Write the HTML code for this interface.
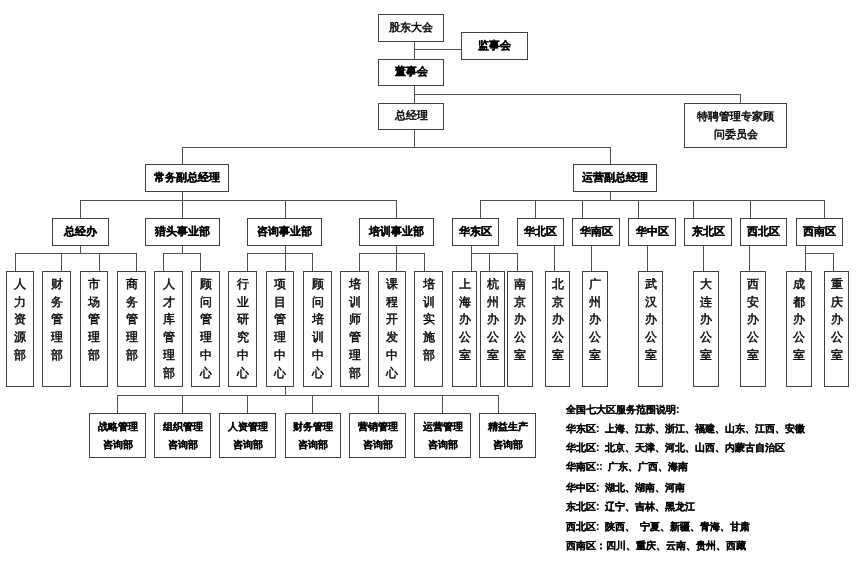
<!DOCTYPE html>
<html><head><meta charset="utf-8"><style>
html,body{margin:0;padding:0;background:#fff;}
body{width:860px;height:562px;position:relative;overflow:hidden;filter:grayscale(1);font-family:"Liberation Sans",sans-serif;color:#111;}
.b{position:absolute;box-sizing:border-box;border:1px solid #404040;background:#fff;}
.hb{display:flex;align-items:center;justify-content:center;font-size:11px;font-weight:bold;white-space:nowrap;padding-bottom:2px;-webkit-text-stroke:0.25px #000;}
.hb.n{font-weight:normal;-webkit-text-stroke:0.5px #000;}
.two{text-align:center;line-height:18px;}
.vb{font-size:12px;-webkit-text-stroke:0.45px #000;line-height:17.7px;text-align:center;padding-top:4px;}
.bb{font-size:10px;line-height:17.8px;text-align:center;padding-top:4px;font-weight:bold;-webkit-text-stroke:0.2px #000;}
.l{position:absolute;background:#505050;}
.lg{position:absolute;left:566px;font-size:10px;font-weight:bold;white-space:pre;line-height:12px;word-spacing:2.5px;-webkit-text-stroke:0.2px #000;}
</style></head><body>

<div class="l" style="left:414px;top:49px;width:48px;height:1px"></div>
<div class="l" style="left:414px;top:41px;width:1px;height:19px"></div>
<div class="l" style="left:414px;top:85px;width:1px;height:19px"></div>
<div class="l" style="left:414px;top:94px;width:327px;height:1px"></div>
<div class="l" style="left:740px;top:94px;width:1px;height:10px"></div>
<div class="l" style="left:414px;top:129px;width:1px;height:19px"></div>
<div class="l" style="left:182px;top:147px;width:429px;height:1px"></div>
<div class="l" style="left:182px;top:147px;width:1px;height:18px"></div>
<div class="l" style="left:610px;top:147px;width:1px;height:18px"></div>
<div class="l" style="left:182px;top:191px;width:1px;height:28px"></div>
<div class="l" style="left:80px;top:200px;width:317px;height:1px"></div>
<div class="l" style="left:80px;top:200px;width:1px;height:19px"></div>
<div class="l" style="left:285px;top:200px;width:1px;height:19px"></div>
<div class="l" style="left:396px;top:200px;width:1px;height:19px"></div>
<div class="l" style="left:610px;top:191px;width:1px;height:10px"></div>
<div class="l" style="left:480px;top:200px;width:345px;height:1px"></div>
<div class="l" style="left:480px;top:200px;width:1px;height:19px"></div>
<div class="l" style="left:535px;top:200px;width:1px;height:19px"></div>
<div class="l" style="left:582px;top:200px;width:1px;height:19px"></div>
<div class="l" style="left:638px;top:200px;width:1px;height:19px"></div>
<div class="l" style="left:693px;top:200px;width:1px;height:19px"></div>
<div class="l" style="left:750px;top:200px;width:1px;height:19px"></div>
<div class="l" style="left:824px;top:200px;width:1px;height:19px"></div>
<div class="l" style="left:15px;top:253px;width:1px;height:19px"></div>
<div class="l" style="left:61px;top:253px;width:1px;height:19px"></div>
<div class="l" style="left:99px;top:253px;width:1px;height:19px"></div>
<div class="l" style="left:136px;top:253px;width:1px;height:19px"></div>
<div class="l" style="left:163px;top:253px;width:1px;height:19px"></div>
<div class="l" style="left:200px;top:253px;width:1px;height:19px"></div>
<div class="l" style="left:247px;top:253px;width:1px;height:19px"></div>
<div class="l" style="left:285px;top:253px;width:1px;height:19px"></div>
<div class="l" style="left:312px;top:253px;width:1px;height:19px"></div>
<div class="l" style="left:359px;top:253px;width:1px;height:19px"></div>
<div class="l" style="left:396px;top:253px;width:1px;height:19px"></div>
<div class="l" style="left:424px;top:253px;width:1px;height:19px"></div>
<div class="l" style="left:471px;top:253px;width:1px;height:19px"></div>
<div class="l" style="left:489px;top:253px;width:1px;height:19px"></div>
<div class="l" style="left:517px;top:253px;width:1px;height:19px"></div>
<div class="l" style="left:554px;top:253px;width:1px;height:19px"></div>
<div class="l" style="left:591px;top:253px;width:1px;height:19px"></div>
<div class="l" style="left:647px;top:253px;width:1px;height:19px"></div>
<div class="l" style="left:703px;top:253px;width:1px;height:19px"></div>
<div class="l" style="left:749px;top:253px;width:1px;height:19px"></div>
<div class="l" style="left:805px;top:253px;width:1px;height:19px"></div>
<div class="l" style="left:833px;top:253px;width:1px;height:19px"></div>
<div class="l" style="left:80px;top:245px;width:1px;height:9px"></div>
<div class="l" style="left:182px;top:245px;width:1px;height:9px"></div>
<div class="l" style="left:285px;top:245px;width:1px;height:9px"></div>
<div class="l" style="left:396px;top:245px;width:1px;height:9px"></div>
<div class="l" style="left:471px;top:245px;width:1px;height:9px"></div>
<div class="l" style="left:554px;top:245px;width:1px;height:9px"></div>
<div class="l" style="left:591px;top:245px;width:1px;height:9px"></div>
<div class="l" style="left:647px;top:245px;width:1px;height:9px"></div>
<div class="l" style="left:703px;top:245px;width:1px;height:9px"></div>
<div class="l" style="left:749px;top:245px;width:1px;height:9px"></div>
<div class="l" style="left:805px;top:245px;width:1px;height:9px"></div>
<div class="l" style="left:15px;top:253px;width:122px;height:1px"></div>
<div class="l" style="left:163px;top:253px;width:38px;height:1px"></div>
<div class="l" style="left:247px;top:253px;width:66px;height:1px"></div>
<div class="l" style="left:359px;top:253px;width:66px;height:1px"></div>
<div class="l" style="left:471px;top:253px;width:47px;height:1px"></div>
<div class="l" style="left:805px;top:253px;width:29px;height:1px"></div>
<div class="l" style="left:285px;top:386px;width:1px;height:10px"></div>
<div class="l" style="left:117px;top:395px;width:382px;height:1px"></div>
<div class="l" style="left:117px;top:395px;width:1px;height:19px"></div>
<div class="l" style="left:182px;top:395px;width:1px;height:19px"></div>
<div class="l" style="left:247px;top:395px;width:1px;height:19px"></div>
<div class="l" style="left:312px;top:395px;width:1px;height:19px"></div>
<div class="l" style="left:378px;top:395px;width:1px;height:19px"></div>
<div class="l" style="left:442px;top:395px;width:1px;height:19px"></div>
<div class="l" style="left:498px;top:395px;width:1px;height:19px"></div>
<div class="b hb n" style="left:378px;top:14px;width:66px;height:28px">股东大会</div>
<div class="b hb" style="left:461px;top:32px;width:67px;height:28px">监事会</div>
<div class="b hb" style="left:378px;top:59px;width:66px;height:27px">董事会</div>
<div class="b hb n two" style="left:684px;top:103px;width:103px;height:45px">特聘管理专家顾<br>问委员会</div>
<div class="b hb n" style="left:378px;top:103px;width:66px;height:27px">总经理</div>
<div class="b hb" style="left:145px;top:164px;width:84px;height:28px">常务副总经理</div>
<div class="b hb" style="left:573px;top:164px;width:84px;height:28px">运营副总经理</div>
<div class="b hb" style="left:52px;top:218px;width:57px;height:28px">总经办</div>
<div class="b hb" style="left:145px;top:218px;width:75px;height:28px">猎头事业部</div>
<div class="b hb" style="left:247px;top:218px;width:75px;height:28px">咨询事业部</div>
<div class="b hb" style="left:359px;top:218px;width:75px;height:28px">培训事业部</div>
<div class="b hb" style="left:452px;top:218px;width:47px;height:28px">华东区</div>
<div class="b hb" style="left:517px;top:218px;width:47px;height:28px">华北区</div>
<div class="b hb" style="left:572px;top:218px;width:48px;height:28px">华南区</div>
<div class="b hb" style="left:628px;top:218px;width:48px;height:28px">华中区</div>
<div class="b hb" style="left:684px;top:218px;width:48px;height:28px">东北区</div>
<div class="b hb" style="left:740px;top:218px;width:47px;height:28px">西北区</div>
<div class="b hb" style="left:796px;top:218px;width:47px;height:28px">西南区</div>
<div class="b vb" style="left:6px;top:271px;width:28px;height:116px">人<br>力<br>资<br>源<br>部</div>
<div class="b vb" style="left:42px;top:271px;width:29px;height:116px">财<br>务<br>管<br>理<br>部</div>
<div class="b vb" style="left:80px;top:271px;width:28px;height:116px">市<br>场<br>管<br>理<br>部</div>
<div class="b vb" style="left:117px;top:271px;width:29px;height:116px">商<br>务<br>管<br>理<br>部</div>
<div class="b vb" style="left:154px;top:271px;width:29px;height:116px">人<br>才<br>库<br>管<br>理<br>部</div>
<div class="b vb" style="left:191px;top:271px;width:29px;height:116px">顾<br>问<br>管<br>理<br>中<br>心</div>
<div class="b vb" style="left:228px;top:271px;width:29px;height:116px">行<br>业<br>研<br>究<br>中<br>心</div>
<div class="b vb" style="left:266px;top:271px;width:28px;height:116px">项<br>目<br>管<br>理<br>中<br>心</div>
<div class="b vb" style="left:303px;top:271px;width:29px;height:116px">顾<br>问<br>培<br>训<br>中<br>心</div>
<div class="b vb" style="left:340px;top:271px;width:29px;height:116px">培<br>训<br>师<br>管<br>理<br>部</div>
<div class="b vb" style="left:378px;top:271px;width:28px;height:116px">课<br>程<br>开<br>发<br>中<br>心</div>
<div class="b vb" style="left:414px;top:271px;width:29px;height:116px">培<br>训<br>实<br>施<br>部</div>
<div class="b vb" style="left:452px;top:271px;width:25px;height:116px">上<br>海<br>办<br>公<br>室</div>
<div class="b vb" style="left:480px;top:271px;width:25px;height:116px">杭<br>州<br>办<br>公<br>室</div>
<div class="b vb" style="left:507px;top:271px;width:26px;height:116px">南<br>京<br>办<br>公<br>室</div>
<div class="b vb" style="left:545px;top:271px;width:25px;height:116px">北<br>京<br>办<br>公<br>室</div>
<div class="b vb" style="left:582px;top:271px;width:26px;height:116px">广<br>州<br>办<br>公<br>室</div>
<div class="b vb" style="left:638px;top:271px;width:25px;height:116px">武<br>汉<br>办<br>公<br>室</div>
<div class="b vb" style="left:693px;top:271px;width:26px;height:116px">大<br>连<br>办<br>公<br>室</div>
<div class="b vb" style="left:740px;top:271px;width:26px;height:116px">西<br>安<br>办<br>公<br>室</div>
<div class="b vb" style="left:786px;top:271px;width:26px;height:116px">成<br>都<br>办<br>公<br>室</div>
<div class="b vb" style="left:824px;top:271px;width:25px;height:116px">重<br>庆<br>办<br>公<br>室</div>
<div class="b bb" style="left:89px;top:413px;width:57px;height:45px">战略管理<br>咨询部</div>
<div class="b bb" style="left:154px;top:413px;width:57px;height:45px">组织管理<br>咨询部</div>
<div class="b bb" style="left:219px;top:413px;width:57px;height:45px">人资管理<br>咨询部</div>
<div class="b bb" style="left:285px;top:413px;width:56px;height:45px">财务管理<br>咨询部</div>
<div class="b bb" style="left:349px;top:413px;width:57px;height:45px">营销管理<br>咨询部</div>
<div class="b bb" style="left:414px;top:413px;width:57px;height:45px">运营管理<br>咨询部</div>
<div class="b bb" style="left:479px;top:413px;width:57px;height:45px">精益生产<br>咨询部</div>
<div class="lg" style="top:403.6px">全国七大区服务范围说明:</div>
<div class="lg" style="top:422.8px">华东区: 上海、江苏、浙江、福建、山东、江西、安徽</div>
<div class="lg" style="top:442.0px">华北区: 北京、天津、河北、山西、内蒙古自治区</div>
<div class="lg" style="top:461.2px">华南区:: 广东、广西、海南</div>
<div class="lg" style="top:481.8px">华中区: 湖北、湖南、河南</div>
<div class="lg" style="top:501.0px">东北区: 辽宁、吉林、黑龙江</div>
<div class="lg" style="top:520.6px">西北区: 陕西、 宁夏、新疆、青海、甘肃</div>
<div class="lg" style="top:539.9px">西南区：四川、重庆、云南、贵州、西藏</div>
</body></html>
